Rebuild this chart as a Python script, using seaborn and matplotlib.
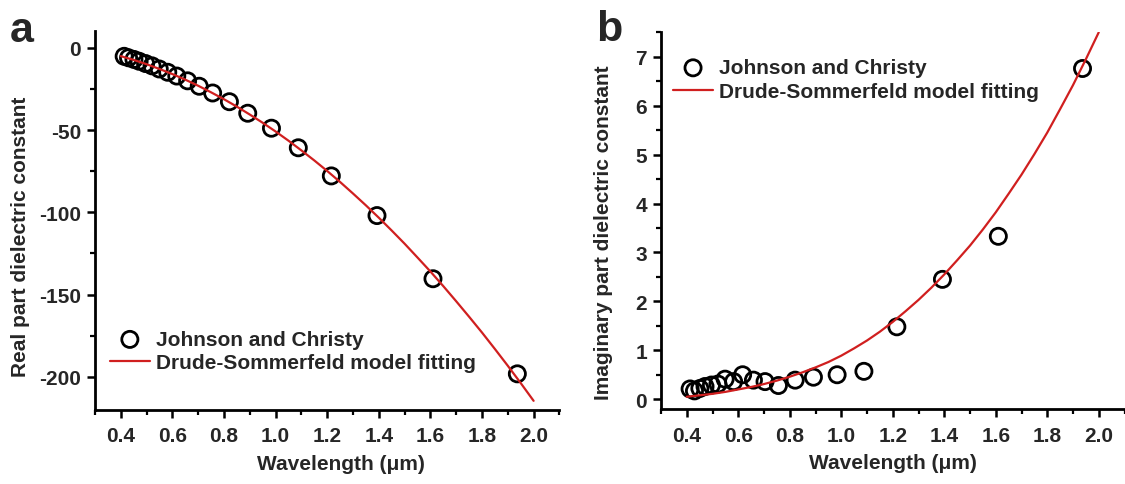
import matplotlib
matplotlib.use("Agg")
import matplotlib.pyplot as plt
import seaborn as sns
import pandas as pd

# ---------------- data ----------------
# Johnson and Christy (measured points), wavelength in micrometres
jc_wavelength = [0.413, 0.430, 0.451, 0.471, 0.496, 0.521, 0.549, 0.582, 0.617, 0.659,
                 0.704, 0.756, 0.821, 0.892, 0.984, 1.088, 1.216, 1.393, 1.610, 1.937]
jc_real = [-5.2, -6.1, -7.1, -8.2, -9.6, -11.0, -12.9, -14.9, -17.2, -20.1,
           -23.4, -27.5, -32.8, -39.8, -48.9, -60.8, -77.9, -102.0, -140.4, -198.2]
jc_imag = [0.21, 0.17, 0.22, 0.26, 0.29, 0.31, 0.41, 0.36, 0.50, 0.39,
           0.36, 0.28, 0.39, 0.45, 0.50, 0.57, 1.48, 2.45, 3.33, 6.76]

# Drude-Sommerfeld model fitting curve
fit_wavelength = [0.40, 0.45, 0.50, 0.55, 0.60, 0.65, 0.70, 0.75, 0.80, 0.85,
                  0.90, 0.95, 1.00, 1.05, 1.10, 1.15, 1.20, 1.25, 1.30, 1.35,
                  1.40, 1.45, 1.50, 1.55, 1.60, 1.65, 1.70, 1.75, 1.80, 1.85,
                  1.90, 1.95, 2.00]
fit_real = [-5.1, -7.4, -10.0, -12.9, -16.0, -19.4, -23.1, -27.1, -31.3, -35.8,
            -40.6, -45.6, -50.9, -56.5, -62.4, -68.5, -74.9, -81.6, -88.6, -95.8,
            -103.3, -111.1, -119.1, -127.5, -136.0, -144.9, -154.1, -163.5, -173.1, -183.1,
            -193.3, -203.8, -214.6]
fit_imag = [0.05, 0.08, 0.11, 0.15, 0.20, 0.25, 0.31, 0.38, 0.46, 0.55,
            0.65, 0.76, 0.89, 1.04, 1.20, 1.38, 1.58, 1.80, 2.03, 2.28,
            2.55, 2.84, 3.14, 3.47, 3.82, 4.20, 4.59, 5.01, 5.45, 5.93,
            6.42, 6.95, 7.50]

label_data = "Johnson and Christy"
label_fit = "Drude-Sommerfeld model fitting"
xlabel = "Wavelength (\u03bcm)"
ylabel_a = "Real part dielectric constant"
ylabel_b = "Imaginary part dielectric constant"

df_jc = pd.DataFrame({"wl": jc_wavelength, "re": jc_real, "im": jc_imag})
df_fit = pd.DataFrame({"wl": fit_wavelength, "re": fit_real, "im": fit_imag})

# ---------------- style ----------------
sns.set_theme(style="ticks")
plt.rcParams["font.family"] = ["Liberation Sans", "DejaVu Sans"]
plt.rcParams["font.weight"] = "bold"
plt.rcParams["axes.labelweight"] = "bold"
plt.rcParams["axes.unicode_minus"] = False

RED = "#d01f1f"
FS = 15

fig = plt.figure(figsize=(11.25, 4.85), dpi=100)
W, H = 1125, 485
ax_a = fig.add_axes([95 / W, 1 - 410.7 / H, 464.4 / W, (410.7 - 32.3) / H])
ax_b = fig.add_axes([661 / W, 1 - 410.0 / H, 463.5 / W, (410.0 - 33.3) / H])


def draw(ax, ycol, ylabel, ylim, ymaj, ymin_step, legend_anchor, ylab_xy, xlab_x):
    sns.scatterplot(data=df_jc, x="wl", y=ycol, ax=ax, marker="o", s=135,
                    facecolor="none", edgecolor="black", linewidth=2.0,
                    label=label_data, zorder=2)
    sns.lineplot(data=df_fit, x="wl", y=ycol, ax=ax, color=RED, linewidth=1.6,
                 label=label_fit, zorder=3, sort=True)
    ax.set_xlim(0.3, 2.1)
    ax.set_ylim(*ylim)
    ax.set_xticks([0.4, 0.6, 0.8, 1.0, 1.2, 1.4, 1.6, 1.8, 2.0])
    ax.set_xticks([0.3, 0.5, 0.7, 0.9, 1.1, 1.3, 1.5, 1.7, 1.9, 2.1], minor=True)
    ax.set_yticks(ymaj)
    ax.yaxis.set_minor_locator(matplotlib.ticker.MultipleLocator(ymin_step))
    ax.set_xticklabels(["0.4", "0.6", "0.8", "1.0", "1.2", "1.4", "1.6", "1.8", "2.0"])
    for s in ["top", "right"]:
        ax.spines[s].set_visible(False)
    for s in ["left", "bottom"]:
        ax.spines[s].set_linewidth(2.0)
        ax.spines[s].set_color("black")
    ax.tick_params(which="major", direction="out", length=6, width=1.8,
                   labelsize=FS, pad=4, color="black")
    ax.tick_params(axis="x", which="major", pad=6)
    ax.tick_params(which="minor", direction="out", length=3.5, width=1.6, color="black")
    for t in ax.get_xticklabels() + ax.get_yticklabels():
        t.set_fontweight("bold")
    ax.set_xlabel(xlabel, fontsize=FS, fontweight="bold")
    ax.set_ylabel(ylabel, fontsize=FS, fontweight="bold")
    ax.yaxis.set_label_coords(*ylab_xy)
    ax.xaxis.set_label_coords(xlab_x, -0.118)
    handles, labels = ax.get_legend_handles_labels()
    leg = ax.legend(handles, labels, loc="upper left", bbox_to_anchor=legend_anchor,
                    frameon=False, handlelength=1.92, handletextpad=0.29,
                    borderpad=0, borderaxespad=0, labelspacing=0.22,
                    prop={"weight": "bold", "size": FS})
    return leg


draw(ax_a, "re", ylabel_a, (-220, 10), [-200, -150, -100, -50, 0], 25,
     (0.032, 0.211), (-0.14, 0.46), 0.53)
draw(ax_b, "im", ylabel_b, (-0.2, 7.5), [0, 1, 2, 3, 4, 5, 6, 7], 0.5,
     (0.026, 0.931), (-0.103, 0.47), 0.50)

fig.text(10 / W, 1 - 42 / H, "a", fontsize=31, fontweight="bold", va="baseline", ha="left")
fig.text(596 / W, 1 - 41 / H, "b", fontsize=31, fontweight="bold", va="baseline", ha="left")

fig.savefig("out.png", dpi=100)
